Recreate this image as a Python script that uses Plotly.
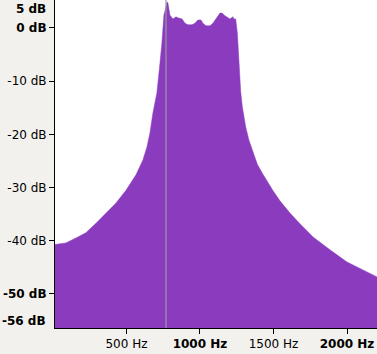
import plotly.graph_objects as go

# Spectrum readings (frequency in Hz, level in dB)
freq_hz = [14, 88, 156, 224, 293, 361, 429, 497, 565, 612,
           639, 660, 680, 707, 714, 728, 741, 748, 755, 762,
           769, 776, 782, 789, 796, 810, 816, 837, 850, 878,
           898, 918, 946, 966, 986, 1007, 1020, 1041, 1068, 1088,
           1116, 1136, 1150, 1170, 1204, 1224, 1231, 1243, 1254, 1260,
           1267, 1277, 1288, 1299, 1311, 1333, 1356, 1390, 1424, 1458,
           1497, 1544, 1612, 1680, 1769, 1884, 2000, 2109, 2204]
level_db = [-40.7, -40.4, -39.5, -38.5, -36.7, -34.8, -32.9, -30.5, -27.6, -24.8,
            -22.4, -19.7, -16.0, -12.2, -9.8, -6.6, -2.8, 0.0, 2.5, 3.2,
            4.2, 4.9, 4.7, 3.8, 2.4, 1.9, 1.7, 2.1, 1.9, 1.7,
            0.9, 0.6, 0.6, 0.9, 1.5, 1.5, 0.9, 0.4, 0.4, 0.9,
            1.9, 2.8, 2.8, 2.3, 1.7, 2.1, 1.7, 1.7, -0.9, -3.8,
            -7.9, -12.0, -14.8, -16.7, -18.6, -21.1, -22.9, -25.6, -27.3, -28.9,
            -30.6, -32.5, -34.8, -36.8, -39.3, -41.7, -44.0, -45.5, -46.8]
floor_db = -60
cursor_hz = 769

x_tickvals = [500, 1000, 1500, 2000]
x_ticktext = ["500 Hz", "<b>1000 Hz</b>", "1500 Hz", "<b>2000 Hz</b>"]
y_tickvals = [0, -10, -20, -30, -40, -50]
y_ticktext = ["<b>0 dB</b>", "-10 dB", "-20 dB", "-30 dB", "-40 dB", "<b>-50 dB</b>"]
y_top_label, y_top_val = "<b>5 dB</b>", 5
y_bot_label, y_bot_val = "<b>-56 dB</b>", -56

purple = "#8a3bbe"

fig = go.Figure()
fig.add_trace(go.Scatter(x=freq_hz, y=[floor_db] * len(freq_hz), mode="lines",
                         line=dict(width=0, color=purple), hoverinfo="skip", showlegend=False))
fig.add_trace(go.Scatter(x=freq_hz, y=level_db, mode="lines", fill="tonexty",
                         fillcolor=purple, line=dict(width=0.5, color=purple), showlegend=False))

fig.add_shape(type="line", x0=cursor_hz, x1=cursor_hz, y0=0, y1=1, xref="x", yref="paper",
              line=dict(color="#9a9a9a", width=1.2))

fig.add_annotation(x=0, xref="paper", y=y_top_val, yref="y", text=y_top_label, showarrow=False,
                   xanchor="right", yanchor="top", xshift=-7, yshift=1,
                   font=dict(family="DejaVu Sans", size=12, color="black"))
fig.add_annotation(x=0, xref="paper", y=y_bot_val, yref="y", text=y_bot_label, showarrow=False,
                   xanchor="right", yanchor="middle", xshift=-7, yshift=5,
                   font=dict(family="DejaVu Sans", size=12, color="black"))

fig.update_layout(
    width=377, height=354,
    margin=dict(l=55, r=0, t=0, b=26),
    paper_bgcolor="#f2f1ed",
    plot_bgcolor="white",
    font=dict(family="DejaVu Sans", size=12, color="black"),
    xaxis=dict(range=[14, 2204], tickvals=x_tickvals, ticktext=x_ticktext,
               ticks="outside", ticklen=5, tickcolor="black", showgrid=False, zeroline=False,
               showline=True, linecolor="black", linewidth=1, mirror=True),
    yaxis=dict(range=[-56.4, 5.26], tickvals=y_tickvals, ticktext=y_ticktext,
               ticks="outside", ticklen=5, tickcolor="black", showgrid=False, zeroline=False,
               showline=True, linecolor="black", linewidth=1, mirror=True),
)

fig.write_html("out.html", config={"displayModeBar": False},
               post_script="document.body.style.margin='0';document.body.style.background='#f2f1ed';")
